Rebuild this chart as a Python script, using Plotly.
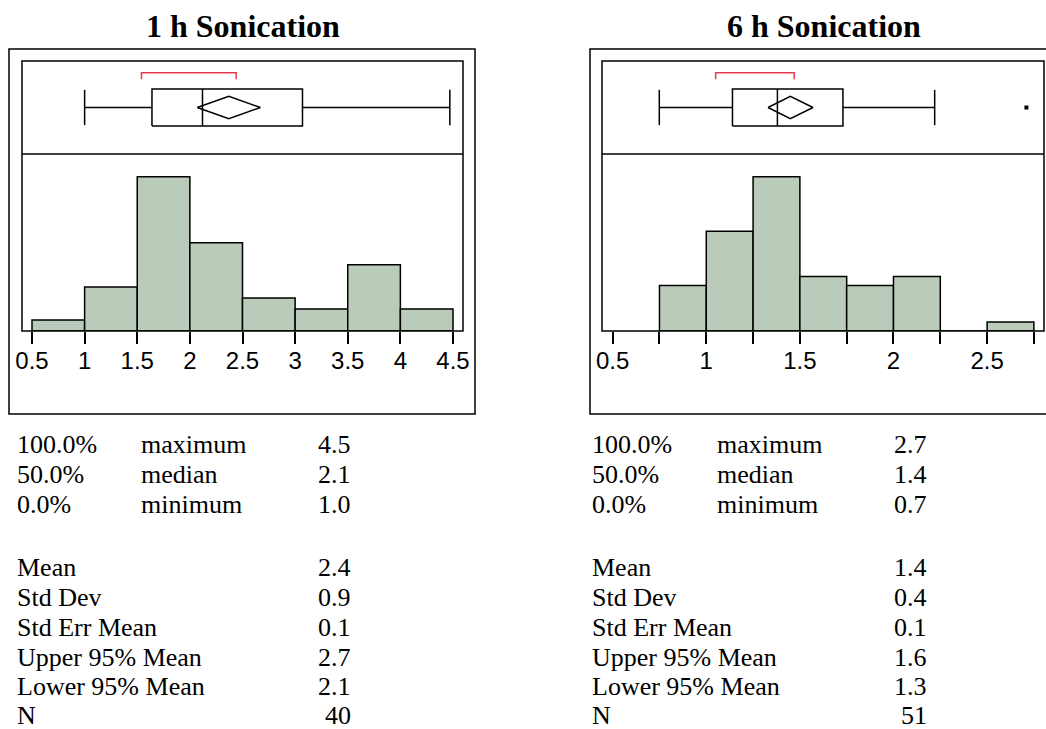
import plotly.graph_objects as go

W, H = 1046, 729

titles = ["1 h Sonication", "6 h Sonication"]

# histogram bins: left edges, bin width, counts
h1_edges = [0.5, 1.0, 1.5, 2.0, 2.5, 3.0, 3.5, 4.0]
h1_counts = [1, 4, 14, 8, 3, 2, 6, 2]
h1_width = 0.5
h6_edges = [0.75, 1.0, 1.25, 1.5, 1.75, 2.0, 2.25, 2.5]
h6_counts = [5, 11, 17, 6, 5, 6, 0, 1]
h6_width = 0.25

# axis ticks
ticks1 = [0.5, 1.0, 1.5, 2.0, 2.5, 3.0, 3.5, 4.0, 4.5]
ticklabels1 = ["0.5", "1", "1.5", "2", "2.5", "3", "3.5", "4", "4.5"]
ticks6 = [0.5, 0.75, 1.0, 1.25, 1.5, 1.75, 2.0, 2.25, 2.5, 2.75]
ticklabels6 = ["0.5", "", "1", "", "1.5", "", "2", "", "2.5", ""]
xrange1 = [0.405, 4.595]
xrange6 = [0.443, 2.804]

# box plot summaries: lower whisker, Q1, median, Q3, upper whisker
box1 = [1.0, 1.64, 2.12, 3.07, 4.47]
box6 = [0.749, 1.14, 1.38, 1.73, 2.22]
outliers1 = []
outliers6 = [2.71]
# shortest-half bracket
short1 = [1.54, 2.44]
short6 = [1.05, 1.47]

# quantiles and moments
quant_pct = ["100.0%", "50.0%", "0.0%"]
quant_name = ["maximum", "median", "minimum"]
quant1 = [4.47, 2.12, 1.0]
quant6 = [2.71, 1.38, 0.749]
mom_names = ["Mean", "Std Dev", "Std Err Mean", "Upper 95% Mean", "Lower 95% Mean", "N"]
mom1 = [2.37, 0.9, 0.14, 2.67, 2.07, 40]
mom6 = [1.449, 0.4, 0.06, 1.57, 1.33, 51]

BAR_FILL = "#BACBBA"
RED = "#E8384F"
LW = 1.5
SERIF = "Liberation Serif, Times New Roman, serif"
SANS = "Liberation Sans, Arial, sans-serif"


def px_x(p):
    return p / W


def px_y(p):
    return 1 - p / H


# panel geometry (pixels)
panels = [
    dict(outer=(9, 49, 475, 414), inner=(22, 61, 463, 331), split=154,
         title_x=243.5, col1=15, col2=139, colv=353),
    dict(outer=(590, 49, 1060, 414), inner=(602, 61, 1044, 331), split=154,
         title_x=824, col1=590, col2=715, colv=929),
]

datasets = [
    dict(edges=h1_edges, counts=h1_counts, width=h1_width, ticks=ticks1,
         ticklabels=ticklabels1, xrange=xrange1, box=box1, outliers=outliers1,
         short=short1, quant=quant1, mom=mom1),
    dict(edges=h6_edges, counts=h6_counts, width=h6_width, ticks=ticks6,
         ticklabels=ticklabels6, xrange=xrange6, box=box6, outliers=outliers6,
         short=short6, quant=quant6, mom=mom6),
]

fig = go.Figure()
layout = dict(
    width=W, height=H, margin=dict(l=0, r=0, t=0, b=0, pad=0, autoexpand=False),
    paper_bgcolor="white", plot_bgcolor="rgba(0,0,0,0)",
    showlegend=False, shapes=[], annotations=[],
)

for i, (pn, ds) in enumerate(zip(panels, datasets)):
    hx = "x%d" % (2 * i + 1)
    hy = "y%d" % (2 * i + 1)
    bx = "x%d" % (2 * i + 2)
    by = "y%d" % (2 * i + 2)
    hx_key = "xaxis%d" % (2 * i + 1)
    hy_key = "yaxis%d" % (2 * i + 1)
    bx_key = "xaxis%d" % (2 * i + 2)
    by_key = "yaxis%d" % (2 * i + 2)
    if i == 0:
        hx_key, hy_key = "xaxis", "yaxis"
        hx, hy = "x", "y"

    x0, y0, x1, y1 = pn["inner"]
    xdom = [px_x(x0), px_x(x1)]
    hist_dom = [px_y(y1), px_y(pn["split"])]
    box_dom = [px_y(pn["split"]), px_y(y0)]
    ymax = max(ds["counts"]) * 177.0 / 154.3

    layout[hx_key] = dict(
        domain=xdom, range=ds["xrange"], anchor=hy, showgrid=False,
        zeroline=False, showline=False, ticks="outside", ticklen=12,
        tickwidth=LW, tickcolor="black", tickvals=ds["ticks"],
        ticktext=ds["ticklabels"], tickfont=dict(family=SANS, size=24, color="black"),
        ticklabelstandoff=-4, automargin=False, fixedrange=True,
    )
    layout[hy_key] = dict(domain=hist_dom, range=[0, ymax], anchor=hx,
                          visible=False, automargin=False, fixedrange=True)
    layout[bx_key] = dict(domain=xdom, range=ds["xrange"], anchor=by,
                          visible=False, automargin=False, fixedrange=True)
    layout[by_key] = dict(domain=box_dom, range=[0, 1], anchor=bx,
                          visible=False, automargin=False, fixedrange=True)

    # histogram bars
    centers = [e + ds["width"] / 2 for e in ds["edges"]]
    fig.add_trace(go.Bar(
        x=centers, y=ds["counts"], width=[ds["width"]] * len(centers),
        marker=dict(color=BAR_FILL, line=dict(color="black", width=LW)),
        xaxis=hx, yaxis=hy, hoverinfo="skip",
    ))

    lo, q1, med, q3, hi = ds["box"]
    line = dict(color="black", width=LW)
    # whiskers with end caps
    fig.add_trace(go.Scatter(
        x=[lo, lo, None, lo, q1, None, q3, hi, None, hi, hi],
        y=[0.31, 0.69, None, 0.5, 0.5, None, 0.5, 0.5, None, 0.31, 0.69],
        mode="lines", line=line, xaxis=bx, yaxis=by, hoverinfo="skip",
    ))
    # box and median
    fig.add_trace(go.Scatter(
        x=[q1, q3, q3, q1, q1, None, med, med],
        y=[0.3, 0.3, 0.7, 0.7, 0.3, None, 0.3, 0.7],
        mode="lines", line=line, xaxis=bx, yaxis=by, hoverinfo="skip",
    ))
    # means diamond from the 95% confidence limits
    mean, upper, lower = ds["mom"][0], ds["mom"][3], ds["mom"][4]
    fig.add_trace(go.Scatter(
        x=[lower, mean, upper, mean, lower],
        y=[0.5, 0.62, 0.5, 0.38, 0.5],
        mode="lines", line=line, xaxis=bx, yaxis=by, hoverinfo="skip",
    ))
    # shortest-half bracket
    a, b = ds["short"]
    fig.add_trace(go.Scatter(
        x=[a, a, b, b], y=[0.805, 0.875, 0.875, 0.805],
        mode="lines", line=dict(color=RED, width=LW), xaxis=bx, yaxis=by,
        hoverinfo="skip",
    ))
    if ds["outliers"]:
        fig.add_trace(go.Scatter(
            x=ds["outliers"], y=[0.5] * len(ds["outliers"]), mode="markers",
            marker=dict(symbol="square", size=4, color="black"),
            xaxis=bx, yaxis=by, hoverinfo="skip",
        ))

    # frames
    ox0, oy0, ox1, oy1 = pn["outer"]
    for (rx0, ry0, rx1, ry1) in [(ox0, oy0, ox1, oy1), (x0, y0, x1, y1)]:
        layout["shapes"].append(dict(
            type="rect", xref="paper", yref="paper",
            x0=px_x(rx0), x1=px_x(rx1), y0=px_y(ry1), y1=px_y(ry0),
            line=dict(color="black", width=LW), fillcolor="rgba(0,0,0,0)",
            layer="above",
        ))
    layout["shapes"].append(dict(
        type="line", xref="paper", yref="paper",
        x0=px_x(x0), x1=px_x(x1), y0=px_y(pn["split"]), y1=px_y(pn["split"]),
        line=dict(color="black", width=LW), layer="above",
    ))

    # title
    layout["annotations"].append(dict(
        text="<b>%s</b>" % titles[i], xref="paper", yref="paper",
        x=px_x(pn["title_x"]), y=px_y(26), xanchor="center", yanchor="middle",
        showarrow=False, font=dict(family=SERIF, size=32, color="black"),
    ))

    # statistics table
    font = dict(family=SERIF, size=26, color="black")
    rows = []
    for k in range(3):
        rows.append((quant_pct[k], quant_name[k], "%.1f" % ds["quant"][k]))
    for k, name in enumerate(mom_names):
        v = ds["mom"][k]
        rows.append((name, "", str(v) if name == "N" else "%.1f" % v))
    baselines = [453, 483, 513, 576, 606, 636, 666, 695, 724]
    for (c1, c2, val), base in zip(rows, baselines):
        yc = px_y(base - 9)
        layout["annotations"].append(dict(
            text=c1, xref="paper", yref="paper", x=px_x(pn["col1"]), y=yc,
            xanchor="left", yanchor="middle", showarrow=False, font=font))
        if c2:
            layout["annotations"].append(dict(
                text=c2, xref="paper", yref="paper", x=px_x(pn["col2"]), y=yc,
                xanchor="left", yanchor="middle", showarrow=False, font=font))
        layout["annotations"].append(dict(
            text=val, xref="paper", yref="paper", x=px_x(pn["colv"]), y=yc,
            xanchor="right", yanchor="middle", showarrow=False, font=font))

fig.update_layout(**layout)
fig.write_html("out.html", config=dict(displayModeBar=False))
